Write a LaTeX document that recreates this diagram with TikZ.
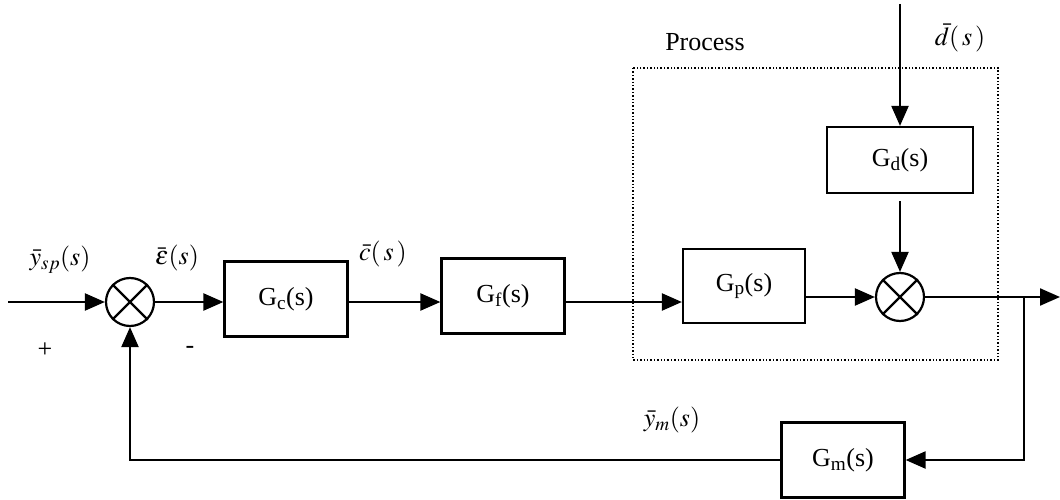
\documentclass[tikz,border=0pt]{standalone}
\usepackage{mathptmx}
\usepackage{fontspec}
\setmainfont{Liberation Serif}
\usetikzlibrary{arrows.meta,calc}
\begin{document}
\begin{tikzpicture}[x=1pt,y=-1pt,
  line width=2.2pt,
  font=\fontsize{26}{30}\selectfont,
  arr/.style={-{Triangle[length=20pt,width=17pt]}},
  blk/.style={draw,rectangle,minimum width=123pt,minimum height=75pt,inner sep=0pt},
  sum/.style={draw,circle,minimum size=48pt,inner sep=0pt},
  lbl/.style={inner sep=0pt}]
\useasboundingbox (0,0) rectangle (1060,500);
% summing junctions
\node[sum] (s1) at (130,302) {};
\node[sum] (s2) at (900,297) {};
\foreach \s in {s1,s2}{
  \draw (\s.north west) -- (\s.south east);
  \draw (\s.north east) -- (\s.south west);
}
% blocks
\node[blk] (gc) at (286,299) {G\textsubscript{c}(s)};
\node[blk] (gf) at (503,296) {G\textsubscript{f}(s)};
\node[blk,minimum width=122pt,minimum height=74pt] (gp) at (744,286) {G\textsubscript{p}(s)};
\node[blk,minimum width=146pt,minimum height=66pt] (gd) at (900,160) {G\textsubscript{d}(s)};
\node[blk] (gm) at (843,460) {G\textsubscript{m}(s)};
% process dotted boundary
\draw[dotted,line width=1.4pt] (633,68) rectangle (998,360);
\node[lbl] (proc) at (705,42) {Process};
% coordinates
\coordinate (in) at (8,302);
\coordinate (dtop) at (900,4);
\coordinate (out) at (1060,297);
\coordinate (br) at (1024,297);
% connectors
\draw[arr] (in) -- (s1);
\draw[arr] (s1) -- (s1 -| gc.west);
\draw[arr] (s1 -| gc.east) -- (s1 -| gf.west);
\draw[arr] (s1 -| gf.east) -- (s1 -| gp.west);
\draw[arr] (s2 -| gp.east) -- (s2);
\draw[arr] (dtop) -- (gd.north);
\draw[arr,shorten <=7pt] (gd.south) -- (s2.north);
\draw[arr] (s2) -- (out);
\draw[arr] (br) |- (gm.east);
\draw[arr] (gm.west) -| (s1.south);
% labels
\node[lbl] (lysp) at (60,260) {$\bar{y}_{sp}(s)$};
\node[lbl] (lplus) at (45,350) {+};
\node[lbl] (leps) at (177,258) {$\bar{\varepsilon}(s)$};
\node[lbl] (lminus) at (190,350) {-};
\node[lbl] (lc) at (383,254) {$\bar{c}(\,s\,)$};
\node[lbl] (ld) at (960,38) {$\bar{d}(\,s\,)$};
\node[lbl] (lym) at (672,420) {$\bar{y}_{m}(s)$};
\end{tikzpicture}
\end{document}
